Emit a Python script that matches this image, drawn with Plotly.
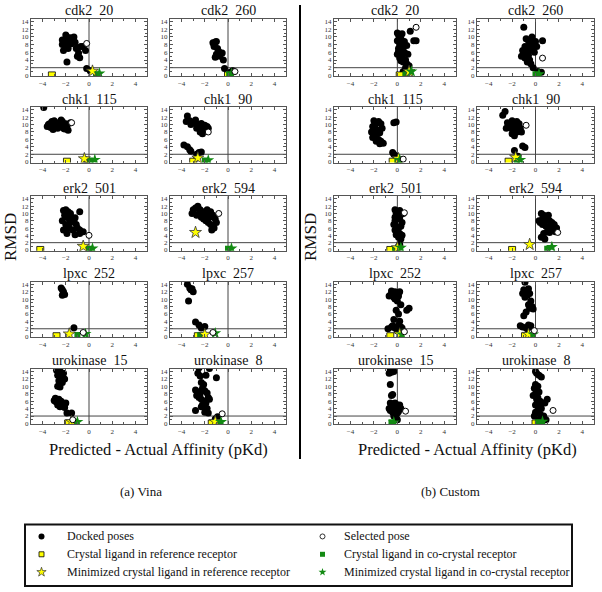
import plotly.graph_objects as go

# ---------------- data ----------------
TITLES = ["cdk2_20", "cdk2_260", "chk1_115", "chk1_90", "erk2_501",
          "erk2_594", "lpxc_252", "lpxc_257", "urokinase_15", "urokinase_8"]
X_TICKS = [-4, -2, 0, 2, 4]
Y_TICKS = [0, 2, 4, 6, 8, 10, 12, 14]

# Vina docked poses (predicted - actual, RMSD)
VINA_CDK2_20 = [(-2.3, 9.2), (-2.1, 8.8), (-2.0, 10.5), (-1.9, 10.0), (-1.8, 9.5), (-1.7, 8.5), (-1.6, 9.8),
                (-1.5, 8.2), (-1.4, 9.0), (-1.3, 10.0), (-1.2, 8.6), (-1.1, 7.0), (-1.0, 7.2), (-0.9, 5.8),
                (-0.8, 4.6), (-0.7, 7.5), (-0.5, 7.5), (-0.3, 6.5), (-2.2, 6.5), (-2.0, 7.5), (-1.8, 7.0),
                (-2.3, 8.0), (-1.9, 3.5), (-1.0, 5.0), (-0.2, 1.8), (0.1, 1.2)]
VINA_CDK2_260 = [(-1.3, 8.5), (-1.2, 8.0), (-1.1, 8.7), (-1.0, 8.8), (-1.2, 7.5), (-0.9, 7.0), (-0.8, 6.2),
                 (-0.7, 5.8), (-0.5, 5.8), (-1.0, 5.5), (-0.7, 5.0), (-0.4, 4.0), (-1.1, 4.7), (-0.3, 1.8),
                 (0.4, 1.2), (0.2, 0.8)]
VINA_CHK1_115 = [(-3.6, 9.5), (-3.4, 10.2), (-3.2, 10.8), (-3.0, 11.0), (-2.8, 10.5), (-2.6, 9.5), (-2.5, 10.0),
                 (-2.3, 10.8), (-2.2, 9.0), (-2.0, 10.2), (-1.9, 9.5), (-1.8, 8.5), (-2.1, 8.8), (-2.7, 9.0),
                 (-3.3, 9.2), (-3.5, 10.0), (-2.4, 11.2), (-2.9, 9.8), (-1.6, 10.5), (-3.9, 14.6), (-3.1, 8.7),
                 (-0.3, 0.5)]
VINA_CHK1_90 = [(-3.5, 12.3), (-3.3, 11.0), (-3.6, 10.8), (-3.0, 10.5), (-2.8, 11.2), (-2.6, 10.0), (-2.5, 9.5),
                (-2.3, 10.3), (-2.1, 9.0), (-2.0, 9.8), (-1.9, 8.5), (-1.8, 9.5), (-1.7, 9.0), (-2.4, 8.0),
                (-2.2, 7.5), (-3.2, 10.0), (-2.7, 9.0), (-3.8, 4.5), (-3.5, 4.0), (-3.3, 3.2), (-3.2, 2.8),
                (-2.7, 2.0), (-2.5, 2.5), (-2.3, 2.6), (-2.7, 1.0)]
VINA_ERK2_501 = [(-2.2, 10.8), (-2.0, 11.0), (-1.8, 10.5), (-1.6, 10.0), (-2.1, 9.5), (-1.9, 9.0), (-1.7, 8.5),
                 (-1.5, 9.0), (-1.3, 8.0), (-1.2, 8.8), (-2.3, 8.0), (-2.0, 7.0), (-1.8, 6.5), (-1.6, 7.5),
                 (-1.4, 5.5), (-1.0, 6.0), (-0.8, 5.5), (-0.5, 5.0), (-2.2, 5.5), (-1.9, 4.5), (-1.2, 4.2),
                 (-0.8, 4.5), (-1.7, 6.0), (-1.1, 7.0), (-0.8, 10.5)]
VINA_ERK2_594 = [(-3.0, 11.0), (-2.8, 11.5), (-2.6, 12.0), (-2.4, 11.0), (-2.2, 10.5), (-2.0, 10.0), (-1.8, 9.5),
                 (-2.5, 10.0), (-2.3, 9.0), (-2.1, 8.5), (-1.9, 8.0), (-1.7, 7.5), (-1.5, 7.0), (-1.3, 6.5),
                 (-1.2, 6.0), (-1.4, 5.5), (-1.0, 7.5), (-2.7, 9.5), (-3.1, 10.0), (-1.6, 9.0), (-1.1, 8.5),
                 (-1.8, 11.0), (-1.5, 10.5), (-1.3, 9.5)]
VINA_LPXC_252 = [(-2.4, 13.0), (-2.3, 12.5), (-2.2, 12.0), (-2.1, 11.2), (-2.3, 11.0), (-1.3, 2.3)]
VINA_LPXC_257 = [(-3.5, 14.0), (-3.3, 13.0), (-3.2, 12.5), (-3.0, 12.0), (-3.1, 12.8), (-3.4, 9.5), (-2.8, 3.8),
                 (-2.5, 3.0), (-2.0, 2.6), (-2.3, 2.2)]
VINA_UROKINASE_15 = [(-2.8, 14.3), (-2.5, 14.0), (-2.7, 13.0), (-2.4, 12.5), (-2.2, 13.5), (-2.6, 11.5),
                     (-2.3, 11.0), (-2.1, 12.0), (-2.7, 10.0), (-2.5, 9.8), (-2.9, 6.8), (-3.0, 6.2), (-2.8, 5.8),
                     (-2.6, 5.5), (-2.4, 6.0), (-2.2, 5.0), (-2.0, 5.5), (-2.7, 5.0), (-2.5, 4.5), (-2.3, 4.8),
                     (-2.1, 4.3), (-1.9, 2.8), (-1.5, 2.8), (-2.9, 6.0), (-2.6, 6.5)]
VINA_UROKINASE_8 = [(-2.5, 15.0), (-1.6, 14.8), (-2.6, 13.5), (-2.4, 12.8), (-1.9, 13.0), (-1.0, 12.3),
                    (-2.3, 11.0), (-2.1, 10.5), (-2.8, 9.0), (-2.6, 8.5), (-2.4, 8.0), (-2.2, 9.5), (-2.0, 8.8),
                    (-1.8, 8.2), (-2.7, 7.5), (-2.5, 7.0), (-2.3, 6.5), (-2.0, 6.0), (-1.7, 7.0), (-1.6, 6.5),
                    (-2.2, 5.0), (-1.9, 5.5), (-2.3, 4.5), (-1.8, 4.0), (-2.0, 3.0), (-2.8, 3.5), (-1.7, 2.8),
                    (-0.9, 1.8), (-1.1, 1.2), (-1.0, 0.8), (-0.8, 0.6)]

# Custom scoring docked poses
CUSTOM_CDK2_20 = [(0.0, 11.0), (0.1, 10.5), (0.2, 10.0), (0.3, 9.5), (0.0, 9.0), (0.4, 8.5), (0.2, 8.0),
                  (0.5, 7.5), (0.1, 7.0), (0.3, 6.5), (0.6, 6.0), (0.0, 5.5), (0.4, 5.0), (0.2, 4.5), (0.7, 4.0),
                  (0.5, 3.5), (0.8, 3.0), (0.3, 3.8), (0.1, 6.2), (0.6, 8.8), (0.8, 7.8), (0.9, 5.5),
                  (1.0, 2.5), (0.7, 2.0), (1.1, 11.5), (1.4, 9.0), (1.6, 9.0), (0.4, 10.8), (0.2, 9.2),
                  (0.5, 1.0), (0.9, 1.5)]
CUSTOM_CDK2_260 = [(-1.0, 12.5), (-0.8, 9.5), (-0.6, 9.0), (-0.4, 9.3), (-0.2, 8.5), (-0.5, 8.0), (-0.9, 7.5),
                   (-0.7, 7.0), (-0.3, 7.2), (-1.1, 6.5), (-1.0, 6.0), (-0.8, 5.5), (-0.6, 5.2), (-1.2, 5.0),
                   (-0.9, 4.5), (-0.5, 4.0), (-0.7, 3.5), (-0.4, 3.0), (-0.2, 2.0), (0.0, 8.8), (0.1, 7.5),
                   (-0.1, 6.0), (0.6, 9.0), (-0.3, 10.0), (-0.6, 6.5), (0.5, 0.8), (0.2, 1.0)]
CUSTOM_CHK1_115 = [(-2.0, 11.0), (-1.8, 10.5), (-1.6, 10.8), (-1.4, 10.2), (-2.1, 9.5), (-1.9, 9.0),
                   (-1.7, 8.5), (-2.2, 8.0), (-2.0, 7.5), (-1.5, 7.8), (-1.8, 7.0), (-2.1, 6.5), (-1.6, 6.0),
                   (-1.4, 5.5), (-1.2, 5.0), (-1.8, 5.5), (-1.5, 4.8), (-1.9, 10.2), (-1.3, 9.0), (-0.3, 10.5),
                   (-0.1, 10.7), (-0.4, 2.5), (-0.3, 2.0), (-0.1, 1.5), (0.0, 1.0)]
CUSTOM_CHK1_90 = [(-2.8, 12.5), (-2.6, 13.5), (-2.4, 10.5), (-2.2, 10.0), (-2.0, 11.0), (-1.8, 10.5),
                  (-1.6, 10.8), (-1.4, 10.2), (-2.3, 9.5), (-2.1, 9.0), (-1.9, 8.5), (-1.7, 9.2), (-1.5, 9.5),
                  (-1.3, 9.0), (-1.2, 8.0), (-2.0, 7.5), (-1.8, 7.0), (-2.5, 9.0), (-1.6, 8.0), (-1.1, 4.2),
                  (-0.9, 3.8), (-1.8, 3.0), (-1.5, 1.5)]
CUSTOM_ERK2_501 = [(-0.2, 11.0), (0.0, 10.5), (0.2, 10.8), (-0.1, 10.0), (0.1, 9.5), (0.3, 9.8), (0.5, 10.0),
                   (-0.2, 9.0), (0.0, 8.5), (0.2, 8.8), (-0.3, 7.0), (-0.1, 6.5), (0.1, 6.0), (0.3, 6.5),
                   (-0.2, 5.5), (0.0, 5.0), (0.2, 4.5), (0.4, 4.0), (-0.1, 4.2), (0.1, 3.5), (0.3, 3.0),
                   (0.2, 1.5), (0.1, 1.0), (-0.2, 8.0), (0.4, 7.5)]
CUSTOM_ERK2_594 = [(0.5, 10.0), (0.7, 9.5), (0.9, 9.0), (1.1, 9.5), (0.6, 8.5), (0.8, 8.0), (1.0, 8.5),
                   (1.2, 8.0), (1.4, 7.5), (1.6, 7.0), (0.4, 7.5), (0.6, 7.0), (0.9, 6.5), (1.1, 6.0),
                   (1.3, 6.5), (1.5, 5.5), (1.7, 5.0), (0.7, 4.5), (0.5, 3.5), (0.8, 3.0), (1.0, 5.0),
                   (1.2, 4.8), (0.3, 8.0), (1.8, 6.0)]
CUSTOM_LPXC_252 = [(-0.6, 11.0), (-0.4, 11.5), (-0.2, 12.0), (0.0, 11.8), (-0.5, 12.2), (-0.3, 10.5),
                   (-0.1, 11.0), (0.1, 10.8), (0.2, 12.0), (-0.7, 10.8), (0.0, 9.5), (-0.2, 10.0), (0.3, 8.5),
                   (1.0, 7.5), (0.8, 7.0), (-0.1, 7.0), (0.1, 6.0), (-0.3, 4.5), (0.2, 4.0), (0.3, 2.5),
                   (0.1, 3.0), (-0.2, 2.2), (0.0, 1.5), (-0.5, 2.5), (-0.8, 2.0), (-0.4, 2.8), (0.4, 2.2)]
CUSTOM_LPXC_257 = [(-0.9, 14.5), (-1.0, 12.5), (-0.8, 12.0), (-1.1, 11.5), (-0.7, 11.0), (-0.9, 10.5),
                   (-0.6, 12.8), (-0.5, 11.5), (-0.4, 9.5), (-0.6, 8.5), (-0.3, 8.0), (-0.5, 7.5), (-0.2, 7.3),
                   (-0.8, 6.5), (-1.0, 5.5), (-0.6, 3.0), (-0.4, 2.8), (-0.5, 2.5), (-1.3, 2.8), (-1.1, 2.5),
                   (-0.8, 2.2), (-0.7, 2.0)]
CUSTOM_UROKINASE_15 = [(-0.6, 14.5), (-0.4, 14.3), (-0.3, 14.0), (-0.5, 13.8), (-0.7, 13.5), (-0.5, 15.0),
                       (-0.6, 10.5), (-0.5, 7.5), (-0.4, 7.8), (-0.6, 5.5), (-0.4, 5.3), (-0.2, 5.5), (0.0, 5.0),
                       (-0.5, 4.5), (-0.3, 4.2), (-0.1, 4.8), (0.1, 4.5), (0.2, 5.0), (-0.6, 3.5), (-0.4, 3.0),
                       (-0.2, 3.5), (0.0, 2.8), (0.1, 3.2), (-0.3, 2.0), (-0.1, 1.5), (0.0, 1.0), (0.3, 4.0),
                       (-0.7, 4.0), (-0.2, 2.5)]
CUSTOM_UROKINASE_8 = [(0.0, 14.0), (0.1, 13.5), (0.3, 13.0), (0.5, 12.5), (0.0, 10.5), (0.2, 10.0), (-0.1, 9.5),
                      (0.1, 9.0), (0.3, 8.5), (0.0, 8.0), (-0.2, 7.5), (0.2, 7.0), (0.1, 6.5), (0.4, 6.0),
                      (0.6, 5.5), (0.0, 5.0), (0.3, 4.5), (0.5, 4.0), (0.8, 5.5), (1.0, 6.5), (0.2, 3.5),
                      (0.0, 3.0), (0.4, 2.5), (-0.1, 2.0), (0.7, 2.0), (0.5, 1.5), (0.9, 1.0), (0.3, 1.0)]

VINA_DOCKED = [VINA_CDK2_20, VINA_CDK2_260, VINA_CHK1_115, VINA_CHK1_90, VINA_ERK2_501,
               VINA_ERK2_594, VINA_LPXC_252, VINA_LPXC_257, VINA_UROKINASE_15, VINA_UROKINASE_8]
CUSTOM_DOCKED = [CUSTOM_CDK2_20, CUSTOM_CDK2_260, CUSTOM_CHK1_115, CUSTOM_CHK1_90, CUSTOM_ERK2_501,
                 CUSTOM_ERK2_594, CUSTOM_LPXC_252, CUSTOM_LPXC_257, CUSTOM_UROKINASE_15, CUSTOM_UROKINASE_8]

# special poses, one per panel (None = not visible)
VINA_SELECTED = [(-0.2, 8.3), (0.6, 1.0), (-1.5, 10.5), (-1.7, 8.0), (0.0, 4.0),
                 (-0.8, 10.0), (-0.5, 1.0), (-1.3, 1.0), (-1.4, 1.0), (-0.5, 2.6)]
VINA_REF_XTAL = [(-3.2, 0.0), (0.0, 0.0), (-1.9, 0.0), (-3.0, 0.0), (-4.2, 0.0),
                 None, (-2.8, 0.0), (-2.6, 0.0), (-1.8, 0.0), (-1.4, 0.0)]
VINA_CO_XTAL = [(0.6, 0.3), (0.1, 0.3), (0.1, 0.3), (-2.0, 0.3), (0.0, 0.3),
                (0.0, 0.3), (-1.0, 0.3), (-2.4, 0.3), (-1.3, 0.3), (-0.9, 0.3)]
VINA_REF_MIN = [(0.3, 1.1), None, (-0.4, 0.8), (-2.6, 1.0), (-0.5, 1.0),
                (-2.8, 4.8), (-1.7, 0.6), (-2.0, 0.5), (-1.5, 0.5), (-1.1, 0.5)]
VINA_CO_MIN = [(0.9, 0.5), (0.3, 0.4), (0.5, 0.5), (-1.7, 0.4), (0.3, 0.4),
               (0.3, 0.4), (-0.3, 0.6), (-1.1, 0.8), (-1.0, 0.4), (-0.6, 0.4)]

CUSTOM_SELECTED = [(1.6, 12.5), (0.6, 4.5), (0.5, 0.7), (-0.8, 9.8), (0.6, 10.2),
                   (1.9, 4.8), (0.6, 1.2), (-0.1, 1.5), (0.7, 3.3), (1.5, 3.5)]
CUSTOM_REF_XTAL = [(0.2, 0.0), None, (-0.4, 0.0), (-2.3, 0.0), (-0.6, 0.0),
                   (-2.0, 0.0), (-0.6, 0.0), (-0.9, 0.0), None, (0.0, 0.0)]
CUSTOM_CO_XTAL = [(0.7, 0.3), (0.0, 0.3), (0.0, 0.3), (-1.6, 0.3), (-0.2, 0.3),
                  (1.0, 0.3), (0.2, 0.3), (-0.5, 0.3), (-0.5, 0.3), (0.2, 0.3)]
CUSTOM_REF_MIN = [(1.0, 1.0), None, (0.1, 0.8), (-1.7, 1.2), (0.0, 0.6),
                  (-0.5, 1.5), (0.2, 0.6), (-0.6, 0.5), None, None]
CUSTOM_CO_MIN = [(1.2, 1.0), (0.3, 0.3), (0.2, 0.5), (-1.3, 0.5), (0.3, 0.6),
                 (1.4, 0.8), (0.4, 0.5), (-0.2, 0.5), (-0.3, 0.3), (0.6, 0.5)]

LEGEND_LABELS = ["Docked poses", "Selected pose",
                 "Crystal ligand in reference receptor", "Crystal ligand in co-crystal receptor",
                 "Minimized crystal ligand in reference receptor",
                 "Minimized crystal ligand in co-crystal receptor"]

# ---------------- styling ----------------
W, H = 602, 592
FONT = "Liberation Serif"
YELLOW = "#ffff00"
GREEN = "#138a13"
AX = "#555555"

STYLES = {
    "docked": dict(symbol="circle", size=7, color="black", line=dict(width=0)),
    "selected": dict(symbol="circle", size=6, color="white", line=dict(width=1, color="black")),
    "ref_xtal": dict(symbol="square", size=7, color=YELLOW, line=dict(width=0.8, color="black")),
    "co_xtal": dict(symbol="square", size=6, color=GREEN, line=dict(width=0)),
    "ref_min": dict(symbol="star", size=9, color=YELLOW, line=dict(width=0.8, color="#333333")),
    "co_min": dict(symbol="star", size=9, color=GREEN, line=dict(width=0)),
}
LEG_STYLES = {
    "docked": dict(symbol="circle", size=6, color="black", line=dict(width=0)),
    "selected": dict(symbol="circle", size=5, color="white", line=dict(width=0.8, color="black")),
    "ref_xtal": dict(symbol="square", size=5, color=YELLOW, line=dict(width=0.8, color="black")),
    "co_xtal": dict(symbol="square", size=5, color=GREEN, line=dict(width=0)),
    "ref_min": dict(symbol="star", size=7, color=YELLOW, line=dict(width=0.7, color="#333333")),
    "co_min": dict(symbol="star", size=6, color=GREEN, line=dict(width=0)),
}

ROWS = [(18, 76), (107, 163), (197, 252), (283, 339), (371, 427)]
COLS_VINA = [(31, 147), (170, 286)]
COLS_CUSTOM = [(334, 456), (477, 594)]
XR_VINA = [[-5, 5], [-5, 5]]
XR_CUSTOM = [[-5.4, 5], [-5, 5]]
YRANGE = [-0.25, 14.7]

fig = go.Figure()
shapes = []
annotations = []


def ax_id(k):
    return "" if k == 1 else str(k)


def px_x(p):
    return p / W


def px_y(p):
    return 1 - p / H


def add_xy(k, pts, style):
    pts = [p for p in pts if p is not None]
    if not pts:
        return
    fig.add_trace(go.Scatter(
        x=[p[0] for p in pts], y=[p[1] for p in pts], mode="markers",
        marker=STYLES[style], xaxis="x" + ax_id(k), yaxis="y" + ax_id(k), showlegend=False,
        hoverinfo="skip", cliponaxis=True))


k = 0
for group, (docked, sel, rx, cx, rm, cm, cols, xrs) in enumerate([
        (VINA_DOCKED, VINA_SELECTED, VINA_REF_XTAL, VINA_CO_XTAL, VINA_REF_MIN, VINA_CO_MIN, COLS_VINA, XR_VINA),
        (CUSTOM_DOCKED, CUSTOM_SELECTED, CUSTOM_REF_XTAL, CUSTOM_CO_XTAL, CUSTOM_REF_MIN, CUSTOM_CO_MIN,
         COLS_CUSTOM, XR_CUSTOM)]):
    for i in range(10):
        k += 1
        a = ax_id(k)
        r, c = divmod(i, 2)
        x0, x1 = cols[c]
        y0, y1 = ROWS[r]
        common = dict(showgrid=False, ticks="inside", ticklen=3, tickcolor=AX, mirror="allticks",
                      showline=True, linecolor=AX, linewidth=1,
                      tickfont=dict(family=FONT, size=7, color="#333333"))
        fig.layout["xaxis" + a] = dict(
            domain=[px_x(x0), px_x(x1)], range=xrs[c], anchor="y" + a, tickvals=X_TICKS,
            ticktext=[str(v).replace("-", "\u2212") for v in X_TICKS], zeroline=False,
            minor=dict(ticks="inside", ticklen=2, dtick=1, tick0=0, tickcolor=AX), **common)
        fig.layout["yaxis" + a] = dict(
            domain=[px_y(y1), px_y(y0)], range=YRANGE, anchor="x" + a, tickvals=Y_TICKS, zeroline=False,
            minor=dict(ticks="inside", ticklen=2, dtick=1, tick0=0, tickcolor=AX), **common)
        # reference lines
        shapes.append(dict(type="line", xref="x" + a + " domain", x0=0, x1=1, yref="y" + a, y0=2, y1=2,
                           line=dict(color="#444444", width=1), layer="below"))
        shapes.append(dict(type="line", xref="x" + a, x0=0, x1=0, yref="y" + a + " domain", y0=0, y1=1,
                           line=dict(color="#444444", width=1), layer="below"))
        add_xy(k, docked[i], "docked")
        add_xy(k, [rx[i]], "ref_xtal")
        add_xy(k, [cx[i]], "co_xtal")
        add_xy(k, [rm[i]], "ref_min")
        add_xy(k, [cm[i]], "co_min")
        add_xy(k, [sel[i]], "selected")
        annotations.append(dict(text=TITLES[i].replace("_", "\u00a0\u00a0"), xref="paper", yref="paper",
                                x=px_x((x0 + x1) / 2), y=px_y(y0 - 8), xanchor="center", yanchor="middle",
                                showarrow=False, font=dict(family=FONT, size=14, color="#111111")))

# group labels
for cx_, rm_x, sub in [(158, 11, "(a) Vina"), (467, 311, "(b) Custom")]:
    annotations.append(dict(text="Predicted - Actual Affinity (pKd)", xref="paper", yref="paper",
                            x=px_x(cx_), y=px_y(452), xanchor="center", yanchor="middle", showarrow=False,
                            font=dict(family=FONT, size=16.5, color="#111111")))
    annotations.append(dict(text="RMSD", xref="paper", yref="paper", x=px_x(rm_x), y=px_y(238),
                            xanchor="center", yanchor="middle", textangle=-90, showarrow=False,
                            font=dict(family=FONT, size=17, color="#111111")))
    annotations.append(dict(text=sub, xref="paper", yref="paper", x=px_x(cx_ - 17), y=px_y(495),
                            xanchor="center", yanchor="middle", showarrow=False,
                            font=dict(family=FONT, size=13, color="#111111")))

# separator between the two groups
shapes.append(dict(type="line", xref="paper", yref="paper", x0=px_x(300), x1=px_x(300),
                   y0=px_y(462), y1=px_y(4), line=dict(color="black", width=2)))

# legend box (drawn on its own small axis in pixel units, no overlap with panels)
LEG_X0, LEG_X1, LEG_Y0, LEG_Y1 = 25, 572, 528, 590
k += 1
a = ax_id(k)
fig.layout["xaxis" + a] = dict(domain=[px_x(LEG_X0), px_x(LEG_X1)], range=[LEG_X0, LEG_X1], visible=False,
                               anchor="y" + a, fixedrange=True)
fig.layout["yaxis" + a] = dict(domain=[px_y(LEG_Y1), px_y(LEG_Y0)], range=[LEG_Y1, LEG_Y0], visible=False,
                               anchor="x" + a, fixedrange=True)
shapes.append(dict(type="rect", xref="paper", yref="paper", x0=px_x(LEG_X0), x1=px_x(LEG_X1),
                   y0=px_y(LEG_Y1), y1=px_y(LEG_Y0), line=dict(color="#111111", width=2)))
row_y = [540, 558, 576]
leg_styles = ["docked", "selected", "ref_xtal", "co_xtal", "ref_min", "co_min"]
for j, (lab, st) in enumerate(zip(LEGEND_LABELS, leg_styles)):
    rr, cc = divmod(j, 2)
    sx, tx = (41.5, 64.5) if cc == 0 else (322.5, 341.5)
    fig.add_trace(go.Scatter(x=[sx], y=[row_y[rr]], mode="markers", marker=LEG_STYLES[st],
                             xaxis="x" + a, yaxis="y" + a, showlegend=False, hoverinfo="skip",
                             cliponaxis=False))
    annotations.append(dict(text=lab, xref="paper", yref="paper", x=px_x(tx), y=px_y(row_y[rr]),
                            xanchor="left", yanchor="middle", showarrow=False,
                            font=dict(family=FONT, size=12, color="#111111")))

fig.update_layout(width=W, height=H, margin=dict(l=0, r=0, t=0, b=0), plot_bgcolor="white",
                  paper_bgcolor="white", shapes=shapes, annotations=annotations, showlegend=False)
fig.write_html("out.html", config={"displayModeBar": False},
               post_script="document.body.style.margin='0px';document.body.style.overflow='hidden';")
